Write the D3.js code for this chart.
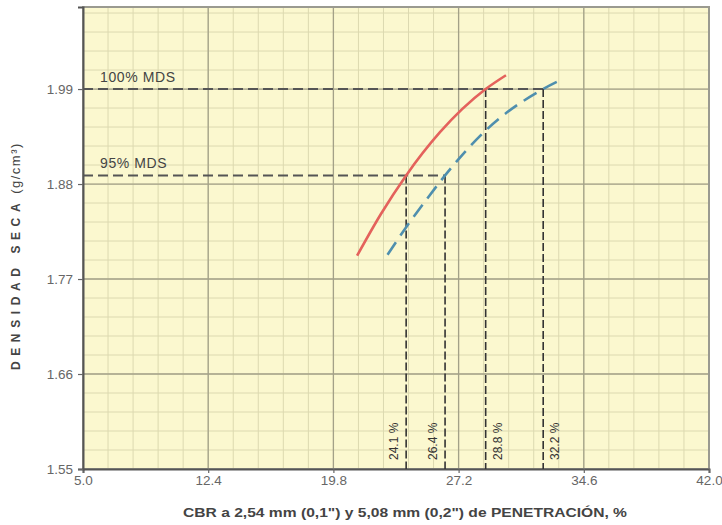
<!DOCTYPE html>
<html><head><meta charset="utf-8">
<script src="https://cdn.jsdelivr.net/npm/d3@7"></script>
<style>html,body{margin:0;padding:0;background:#fff;}svg{display:block;}</style>
</head><body>
<svg id="chart" width="722" height="525"></svg>
<script>
// ---- data ----
const xTicks = [5.0, 12.4, 19.8, 27.2, 34.6, 42.0];
const yTicks = [1.55, 1.66, 1.77, 1.88, 1.99];
const redCBR  = [21.2, 22.6, 24.1, 26.1, 28.8, 30.0];
const redDens = [1.797, 1.845, 1.890, 1.940, 1.990, 2.006];
const blueCBR  = [23.0, 24.1, 25.3, 26.4, 28.8, 32.2, 33.4];
const blueDens = [1.798, 1.830, 1.862, 1.890, 1.942, 1.990, 2.002];
const mdsLabels = ["100% MDS", "95% MDS"];
const mdsDens   = [1.99, 1.89];
const mdsReach  = [32.2, 26.4];
const resultCBR  = [24.1, 26.4, 28.8, 32.2];
const resultDens = [1.89, 1.89, 1.99, 1.99];
const resultText = ["24.1 %", "26.4 %", "28.8 %", "32.2 %"];
const resultSide = [-1, -1, 1, 1];
const xTitle = "CBR a 2,54 mm (0,1\") y 5,08 mm (0,2\") de PENETRACIÓN, %";

// ---- layout ----
const L = 83, R = 709, T = 7, B = 469;
const x = d3.scaleLinear().domain([5.0, 42.0]).range([L, R]);
const y = d3.scaleLinear().domain([1.55, 2.085]).range([B, T]);
const svg = d3.select("#chart");
const FONT = "Liberation Sans, Arial, sans-serif";

svg.append("rect").attr("x", L).attr("y", T).attr("width", R - L).attr("height", B - T)
  .attr("fill", "#fbf8cf");

// minor grid
const xMinor = d3.range(0, 26).map(i => 5.0 + i * 1.48);
const yMinor = d3.range(0, 25).map(i => 1.55 + i * 0.022).filter(v => v <= 2.085);
svg.append("g").selectAll("line").data(xMinor).join("line")
  .attr("x1", d => x(d)).attr("x2", d => x(d)).attr("y1", T).attr("y2", B)
  .attr("stroke", "#dcd9b0").attr("stroke-width", 1);
svg.append("g").selectAll("line").data(yMinor).join("line")
  .attr("y1", d => y(d)).attr("y2", d => y(d)).attr("x1", L).attr("x2", R)
  .attr("stroke", "#dcd9b0").attr("stroke-width", 1);
// major grid
svg.append("g").selectAll("line").data(xTicks).join("line")
  .attr("x1", d => x(d)).attr("x2", d => x(d)).attr("y1", T).attr("y2", B)
  .attr("stroke", "#a3a188").attr("stroke-width", 1.3);
svg.append("g").selectAll("line").data(yTicks).join("line")
  .attr("y1", d => y(d)).attr("y2", d => y(d)).attr("x1", L).attr("x2", R)
  .attr("stroke", "#a3a188").attr("stroke-width", 1.3);

// frame
svg.append("rect").attr("x", L).attr("y", T).attr("width", R - L).attr("height", B - T)
  .attr("fill", "none").attr("stroke", "#9a9a90").attr("stroke-width", 2);

// axes
const xAxis = svg.append("g").attr("transform", `translate(0,${B})`)
  .call(d3.axisBottom(x).tickValues(xTicks).tickFormat(d3.format(".1f")).tickSizeOuter(0).tickSize(4));
const yAxis = svg.append("g").attr("transform", `translate(${L},0)`)
  .call(d3.axisLeft(y).tickValues(yTicks).tickFormat(d3.format(".2f")).tickSizeOuter(0).tickSize(5));
[xAxis, yAxis].forEach(g => {
  g.select(".domain").attr("stroke", "#555").attr("stroke-width", 2);
  g.selectAll(".tick line").attr("stroke", "#666").attr("stroke-width", 1.2);
  g.selectAll(".tick text").attr("fill", "#666").style("font-family", FONT)
    .style("font-size", "13.5px");
});
xAxis.selectAll(".tick text").attr("dy", "0.9em").attr("y", 4);
yAxis.selectAll(".tick text").attr("x", -10);

// MDS dashed horizontal lines
mdsDens.forEach((d, i) => {
  svg.append("line").attr("x1", L).attr("x2", x(mdsReach[i])).attr("y1", y(d)).attr("y2", y(d))
    .attr("stroke", "#555").attr("stroke-width", 2).attr("stroke-dasharray", "10,5");
  svg.append("text").attr("x", L + 17).attr("y", y(d) - 7).text(mdsLabels[i])
    .attr("fill", "#444").style("font-family", FONT)
    .style("font-size", "14px").style("letter-spacing", "0.6px");
});

// vertical dashed lines from intersections to axis
resultCBR.forEach((c, i) => {
  svg.append("line").attr("x1", x(c)).attr("x2", x(c)).attr("y1", y(resultDens[i])).attr("y2", B)
    .attr("stroke", "#333").attr("stroke-width", 1.6).attr("stroke-dasharray", "8,3");
  const tx = x(c) + resultSide[i] * 12;
  svg.append("text").attr("transform", `translate(${tx + 4},${460}) rotate(-90)`)
    .text(resultText[i]).attr("fill", "#333")
    .style("font-family", FONT).style("font-size", "12px");
});

// curves
const line = d3.line().x(d => x(d[0])).y(d => y(d[1])).curve(d3.curveMonotoneX);
svg.append("path").attr("d", line(d3.zip(redCBR, redDens)))
  .attr("fill", "none").attr("stroke", "#e4625c").attr("stroke-width", 2.6);
svg.append("path").attr("d", line(d3.zip(blueCBR, blueDens)))
  .attr("fill", "none").attr("stroke", "#4f8fae").attr("stroke-width", 2.6)
  .attr("stroke-dasharray", "15,8");

// x title
svg.append("text").attr("x", 183).attr("y", 517).text(xTitle)
  .attr("textLength", 444).attr("lengthAdjust", "spacingAndGlyphs")
  .attr("fill", "#444").style("font-family", FONT)
  .style("font-size", "12.5px").style("font-weight", "bold");

// y title
const yt = svg.append("text").attr("transform", "translate(20,370) rotate(-90)")
  .attr("fill", "#444").style("font-family", FONT);
yt.append("tspan").text("DENSIDAD SECA").style("font-size", "12px").style("font-weight", "bold")
  .style("letter-spacing", "5.6px");
yt.append("tspan").text("(g/cm³)").attr("dx", 4).style("font-size", "13px").style("letter-spacing", "1.5px");
</script>
</body></html>
